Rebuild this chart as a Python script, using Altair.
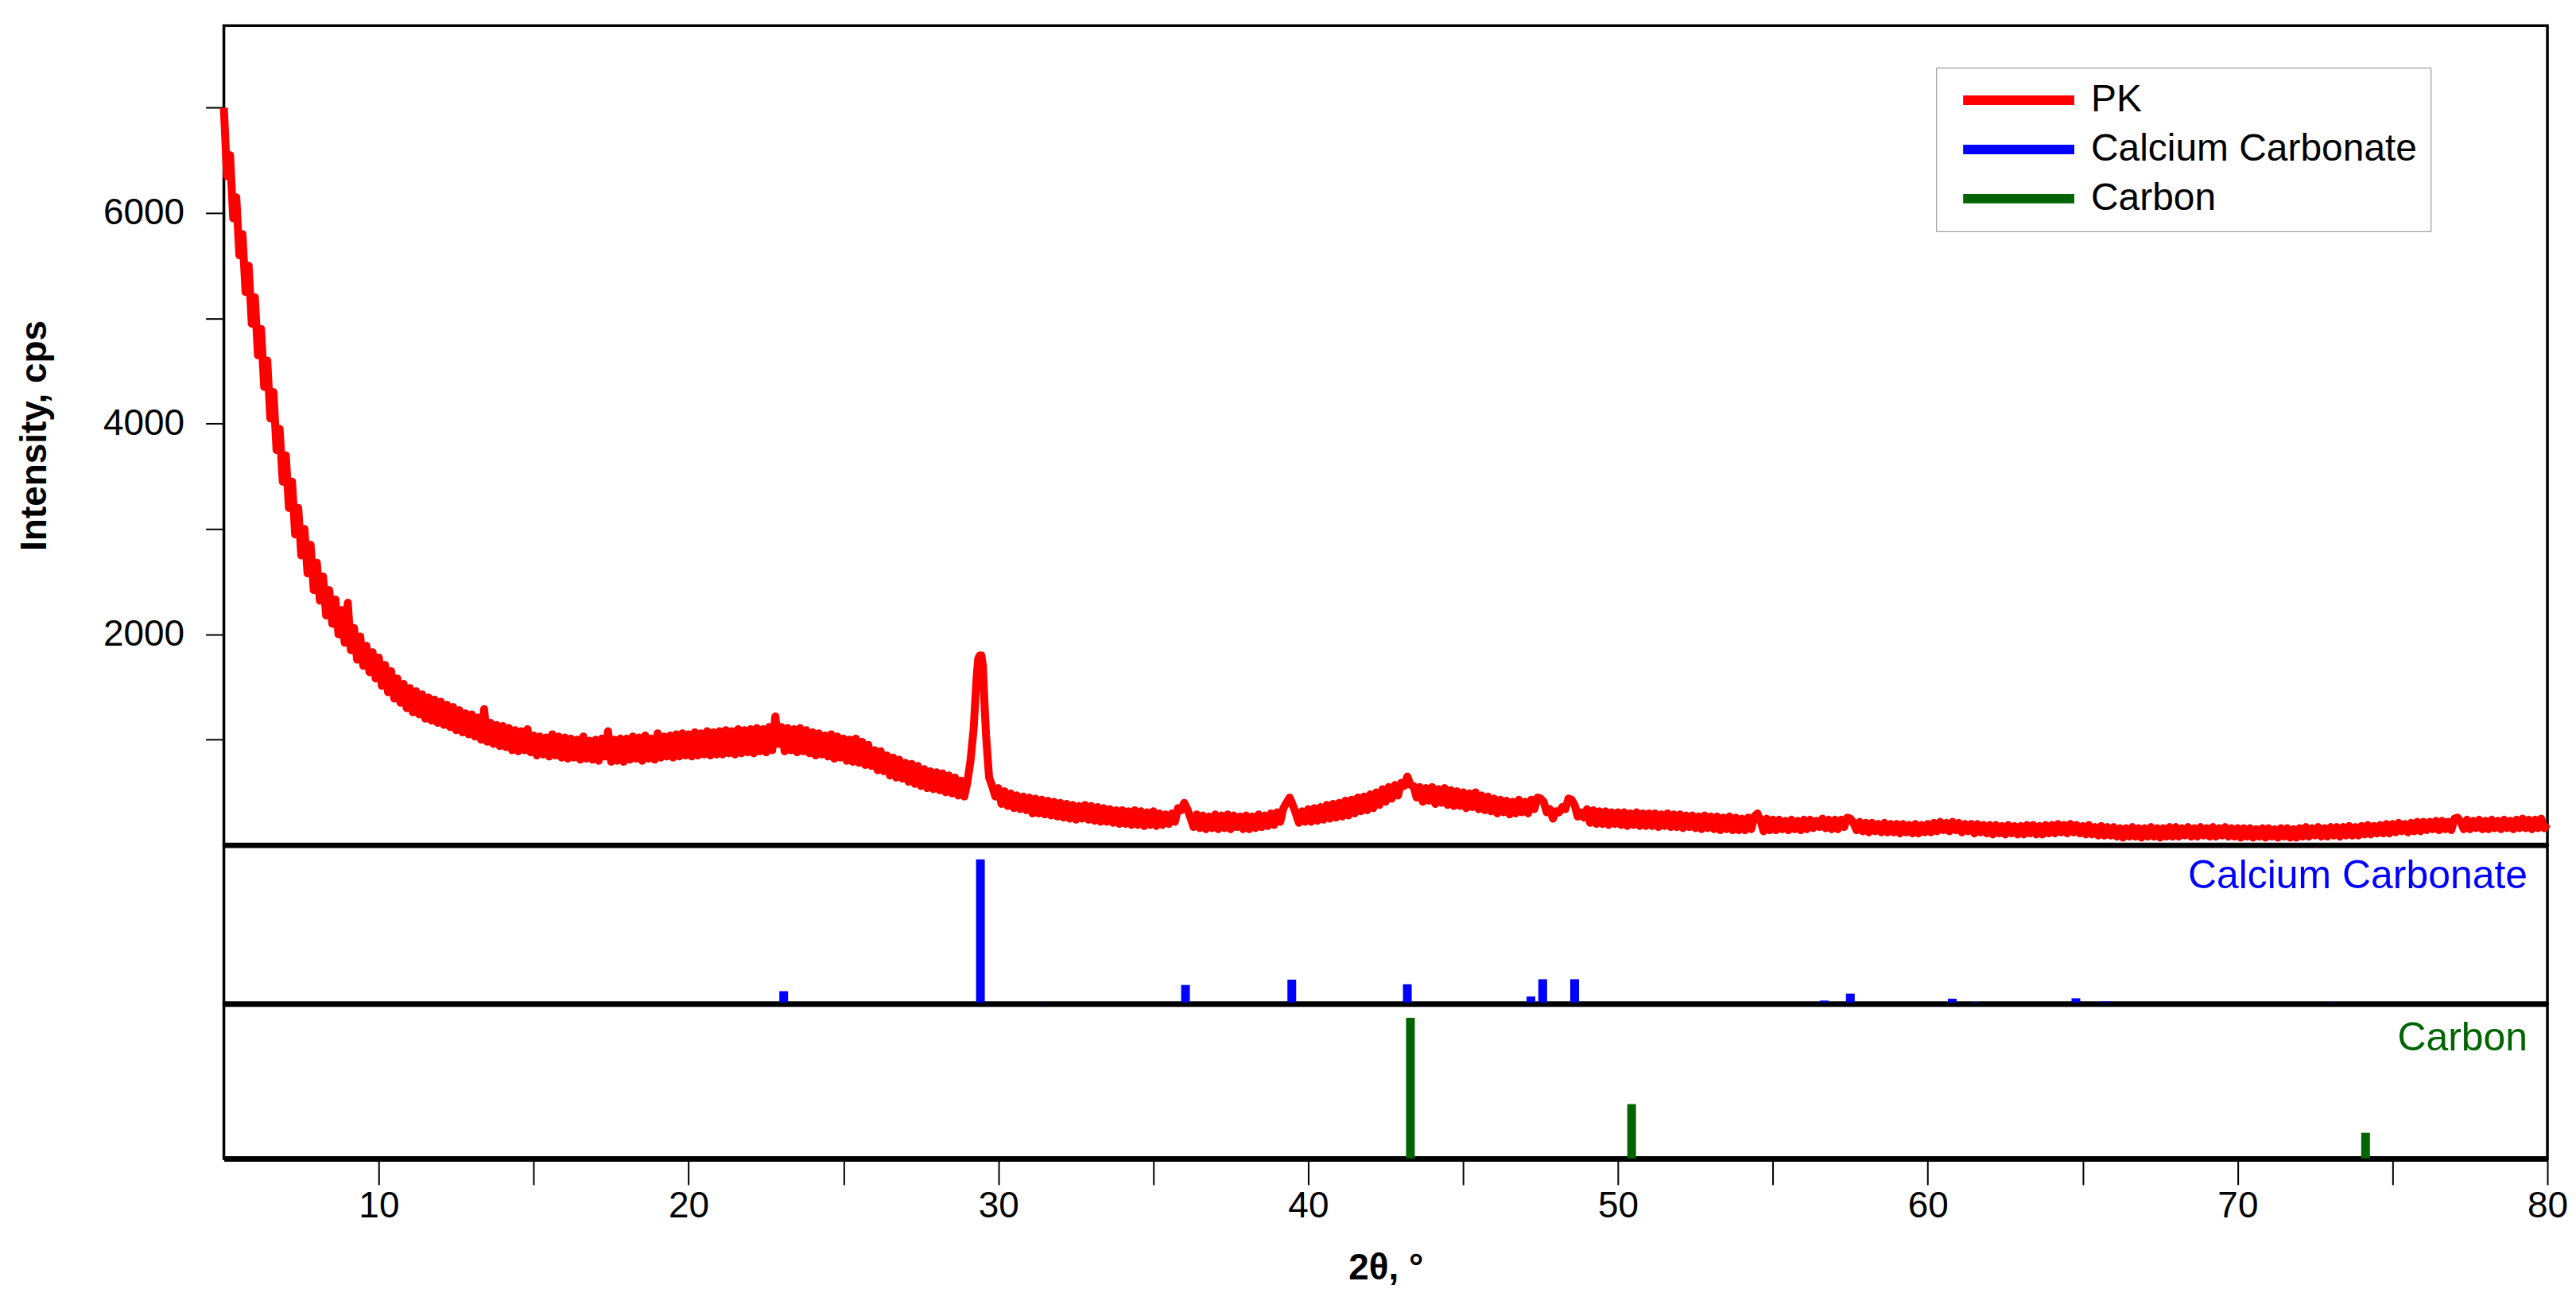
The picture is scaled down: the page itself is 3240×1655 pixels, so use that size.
import altair as alt
import pandas as pd

# ---------------- data ----------------
# PK diffractogram, sampled every 0.1 deg; one row per degree (x.0 ... x.9), cps
PK_START = 5.0
PK_STEP = 0.1
pk_intensity = [
    7000, 6350, 6550, 5950, 6150, 5600, 5800, 5250, 5500, 4950,   # 5
    5200, 4650, 4900, 4350, 4600, 4050, 4300, 3750, 3950, 3450,   # 6
    3700, 3200, 3450, 2950, 3200, 2750, 3000, 2580, 2850, 2420,   # 7
    2680, 2320, 2550, 2180, 2420, 2100, 2330, 2000, 2230, 1920,   # 8
    2300, 1850, 2060, 1760, 1980, 1700, 1890, 1640, 1830, 1580,   # 9
    1780, 1510, 1710, 1450, 1650, 1390, 1580, 1350, 1530, 1300,   # 10
    1490, 1260, 1460, 1240, 1430, 1200, 1400, 1180, 1380, 1160,   # 11
    1360, 1140, 1330, 1120, 1310, 1090, 1280, 1070, 1250, 1050,   # 12
    1240, 1030, 1210, 1000, 1290, 980, 1160, 960, 1140, 940,      # 13
    1130, 930, 1110, 900, 1090, 890, 1080, 900, 1100, 880,        # 14
    1040, 850, 1030, 860, 1020, 840, 1050, 850, 1030, 830,        # 15
    1020, 820, 1010, 830, 1000, 810, 1030, 820, 990, 810,         # 16
    1000, 800, 1010, 840, 1080, 790, 1000, 800, 1010, 790,        # 17
    1010, 810, 1030, 820, 1020, 800, 1040, 820, 1010, 810,        # 18
    1060, 830, 1030, 840, 1040, 830, 1050, 840, 1060, 850,        # 19
    1050, 840, 1070, 850, 1060, 860, 1080, 850, 1070, 860,        # 20
    1080, 860, 1090, 870, 1080, 860, 1100, 870, 1090, 880,        # 21
    1100, 870, 1110, 890, 1100, 880, 1120, 900, 1220, 960,        # 22
    1120, 890, 1110, 900, 1100, 880, 1110, 890, 1090, 870,        # 23
    1070, 850, 1060, 860, 1040, 840, 1050, 820, 1030, 830,        # 24
    1010, 800, 1000, 790, 1010, 780, 980, 760, 950, 750,          # 25
    900, 710, 890, 700, 850, 660, 830, 640, 810, 630,             # 26
    780, 600, 770, 580, 750, 560, 720, 540, 700, 530,             # 27
    690, 520, 680, 500, 660, 490, 640, 470, 610, 460,             # 28
    600, 800, 1100, 1600, 1800, 1700, 1050, 640, 560, 460,        # 29
    540, 390, 510, 370, 490, 350, 470, 340, 460, 330,             # 30
    450, 300, 440, 300, 430, 290, 420, 280, 410, 270,             # 31
    400, 260, 390, 250, 380, 240, 370, 250, 380, 240,             # 32
    370, 230, 360, 220, 350, 220, 340, 210, 330, 200,             # 33
    330, 200, 320, 190, 330, 190, 320, 180, 310, 190,             # 34
    320, 180, 300, 190, 290, 200, 300, 220, 350, 330,             # 35
    400, 340, 260, 170, 290, 160, 280, 150, 270, 160,             # 36
    290, 150, 280, 160, 290, 150, 280, 170, 270, 150,             # 37
    280, 150, 270, 160, 290, 170, 280, 180, 300, 190,             # 38
    310, 220, 350, 400, 450, 380, 300, 210, 320, 220,             # 39
    340, 220, 350, 230, 360, 240, 380, 250, 390, 260,             # 40
    400, 270, 420, 280, 430, 300, 450, 320, 460, 330,             # 41
    480, 350, 500, 380, 530, 410, 550, 440, 570, 470,             # 42
    590, 560, 650, 570, 560, 450, 550, 410, 540, 420,             # 43
    550, 390, 530, 400, 540, 380, 520, 370, 510, 370,             # 44
    500, 350, 490, 360, 500, 340, 470, 330, 460, 320,             # 45
    440, 300, 430, 310, 420, 290, 410, 300, 430, 310,             # 46
    410, 300, 430, 340, 450, 440, 410, 310, 340, 250,             # 47
    320, 310, 360, 340, 440, 430, 380, 270, 310, 260,             # 48
    340, 210, 330, 200, 320, 200, 320, 190, 310, 200,             # 49
    310, 190, 310, 180, 300, 190, 310, 180, 300, 180,             # 50
    300, 180, 300, 170, 290, 180, 300, 170, 290, 170,             # 51
    290, 160, 280, 170, 280, 160, 270, 150, 280, 160,             # 52
    270, 150, 270, 140, 260, 150, 270, 140, 260, 140,             # 53
    250, 140, 260, 150, 270, 300, 230, 130, 250, 140,             # 54
    240, 140, 240, 150, 230, 140, 240, 150, 230, 140,             # 55
    240, 150, 240, 160, 230, 170, 250, 160, 240, 150,             # 56
    240, 150, 240, 170, 260, 250, 210, 140, 220, 130,             # 57
    210, 120, 210, 130, 200, 120, 210, 120, 200, 120,             # 58
    200, 110, 200, 120, 190, 110, 200, 110, 190, 120,             # 59
    200, 120, 210, 130, 220, 140, 210, 130, 220, 140,             # 60
    210, 120, 200, 130, 200, 110, 200, 120, 190, 110,             # 61
    190, 100, 190, 110, 180, 100, 190, 110, 180, 100,             # 62
    180, 100, 190, 110, 190, 100, 180, 100, 190, 110,             # 63
    190, 110, 200, 120, 190, 110, 200, 120, 190, 110,             # 64
    180, 100, 190, 100, 170, 90, 180, 90, 170, 90,                # 65
    170, 80, 160, 70, 160, 80, 170, 80, 160, 70,                  # 66
    160, 80, 170, 80, 160, 70, 160, 80, 170, 80,                  # 67
    170, 80, 160, 90, 170, 80, 160, 80, 170, 90,                  # 68
    160, 80, 170, 80, 160, 90, 170, 80, 160, 80,                  # 69
    160, 70, 160, 80, 160, 70, 150, 80, 160, 70,                  # 70
    160, 80, 150, 70, 160, 80, 160, 70, 150, 70,                  # 71
    160, 80, 170, 80, 160, 90, 170, 80, 160, 80,                  # 72
    170, 90, 170, 80, 170, 90, 180, 90, 170, 90,                  # 73
    180, 100, 190, 100, 180, 110, 190, 110, 200, 110,             # 74
    200, 120, 210, 130, 200, 120, 210, 130, 220, 130,             # 75
    220, 140, 220, 150, 230, 140, 230, 150, 220, 140,             # 76
    250, 260, 220, 150, 240, 150, 230, 160, 240, 150,             # 77
    230, 150, 240, 160, 230, 150, 240, 160, 230, 150,             # 78
    240, 160, 250, 160, 240, 150, 240, 160, 250, 160,             # 79
    200,                                                          # 80.0
]
# extra points resolving the sharp calcite reflection near 29.4 deg
pk_peak_x = [29.35, 29.45, 29.55]
pk_peak_y = [1770, 1800, 1350]

# reference patterns (relative intensity, %)
caco3_pos = [23.07, 29.42, 31.45, 36.04, 39.47, 43.2, 47.19, 47.57, 48.6,
             56.66, 57.5, 60.79, 61.5, 64.78, 65.76, 73.05]
caco3_int = [8.7, 100, 1.0, 13, 16.7, 13.5, 5, 17, 17,
             2.2, 7, 3.5, 1.2, 3.8, 1.6, 1.2]
carbon_pos = [43.3, 50.44, 74.13]
carbon_int = [100, 38.7, 18.3]

series = ["PK", "Calcium Carbonate", "Carbon"]
colors = ["#ff0000", "#0000ff", "#006400"]

# ---------------- tables ----------------
pk_x = [round(PK_START + PK_STEP * i, 2) for i in range(len(pk_intensity))]
pk_df = pd.DataFrame({
    "two_theta": pk_x + pk_peak_x,
    "intensity": pk_intensity + pk_peak_y,
}).sort_values("two_theta")
pk_df["series"] = series[0]

ca_df = pd.DataFrame({"pos": caco3_pos, "rel": caco3_int, "series": series[1]})
c_df = pd.DataFrame({"pos": carbon_pos, "rel": carbon_int, "series": series[2]})

# ---------------- chart ----------------
FONT = "Liberation Sans"
W = 2927
H_MAIN = 1032
H_CA = 200
H_C = 195

xscale = alt.Scale(domain=[5, 80], nice=False, zero=False)
color_scale = alt.Scale(domain=series, range=colors)
legend = alt.Legend(
    title=None, orient="none", legendX=2157, legendY=53,
    symbolType="M0,0L10,0", symbolSize=784, symbolStrokeWidth=12,
    symbolOffset=-7,
    labelFontSize=48, labelFont=FONT, labelOffset=137, labelLimit=2000,
    padding=17, rowPadding=14, strokeColor="#888888", fillColor="white",
    labelColor="black",
)

hidden_x = alt.Axis(labels=False, ticks=False, title=None, grid=False,
                    domainWidth=7, domainColor="black")

main = alt.Chart(pk_df).mark_line(strokeWidth=10, strokeJoin="round").encode(
    x=alt.X("two_theta:Q", scale=xscale, axis=hidden_x),
    y=alt.Y("intensity:Q", scale=alt.Scale(domain=[0, 7780], nice=False),
            axis=alt.Axis(values=[1000, 2000, 3000, 4000, 5000, 6000, 7000],
                          labelExpr="datum.value % 2000 == 0 ? datum.label : ''",
                          format="d", tickSize=23, tickWidth=2, tickColor="black",
                          labelPadding=27, labelFontSize=46, labelFont=FONT,
                          labelColor="black", title="Intensity, cps",
                          titleFontSize=46, titleFont=FONT, titleFontWeight="bold",
                          titleColor="black", titlePadding=62, domain=False,
                          grid=False)),
    color=alt.Color("series:N", scale=color_scale, legend=legend),
).properties(width=W, height=H_MAIN)

ca_rules = alt.Chart(ca_df).mark_rule(strokeWidth=11, strokeCap="butt").encode(
    x=alt.X("pos:Q", scale=xscale, axis=hidden_x),
    y=alt.Y("rel:Q", scale=alt.Scale(domain=[0, 110], nice=False), axis=None),
    y2=alt.datum(0),
    color=alt.Color("series:N", scale=color_scale, legend=legend),
)
ca_text = alt.Chart(pd.DataFrame({"label": [series[1]]})).mark_text(
    align="right", baseline="alphabetic", fontSize=50, font=FONT,
    color=colors[1], dx=-25,
).encode(x=alt.datum(80), y=alt.value(54), text="label:N")
ca_panel = alt.layer(ca_rules, ca_text).properties(width=W, height=H_CA)

bottom_x = alt.Axis(values=list(range(10, 81, 5)),
                    labelExpr="datum.value % 10 == 0 ? datum.label : ''",
                    tickSize=33, tickWidth=2, tickColor="black",
                    labelPadding=5, labelFontSize=46, labelFont=FONT,
                    labelColor="black", title="2θ, °", titleFontSize=46,
                    titleFont=FONT, titleFontWeight="bold", titleColor="black",
                    titlePadding=33, domainWidth=7, domainColor="black",
                    grid=False, labelFlush=False, labelOverlap=False)
c_rules = alt.Chart(c_df).mark_rule(strokeWidth=11, strokeCap="butt").encode(
    x=alt.X("pos:Q", scale=xscale, axis=bottom_x),
    y=alt.Y("rel:Q", scale=alt.Scale(domain=[0, 110], nice=False), axis=None),
    y2=alt.datum(0),
    color=alt.Color("series:N", scale=color_scale, legend=legend),
)
c_text = alt.Chart(pd.DataFrame({"label": [series[2]]})).mark_text(
    align="right", baseline="alphabetic", fontSize=50, font=FONT,
    color=colors[2], dx=-25,
).encode(x=alt.datum(80), y=alt.value(59), text="label:N")
c_panel = alt.layer(c_rules, c_text).properties(width=W, height=H_C)

chart = alt.vconcat(main, ca_panel, c_panel, spacing=0, bounds="flush").properties(
    padding={"left": 10, "top": 21, "right": 0, "bottom": 10},
    background="white",
).configure_view(stroke="black", strokeWidth=3.5)

chart.save("out.html", embed_options={"renderer": "svg", "actions": False})
